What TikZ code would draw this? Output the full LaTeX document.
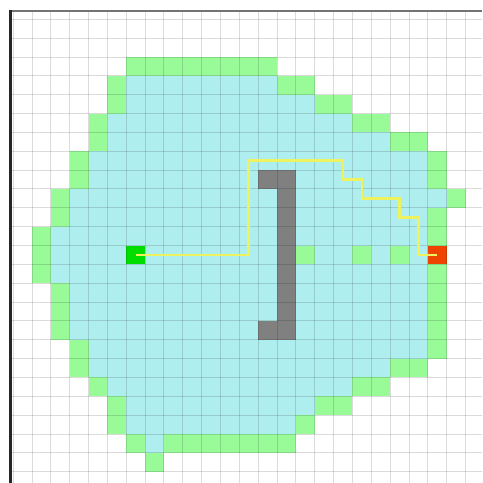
\documentclass[tikz,border=0pt]{standalone}
\definecolor{closedc}{RGB}{175,238,238}
\definecolor{openc}{RGB}{152,251,152}
\definecolor{startc}{RGB}{0,221,0}
\definecolor{endc}{RGB}{238,68,0}
\definecolor{wallc}{RGB}{128,128,128}
\definecolor{pathc}{RGB}{238,242,95}
\begin{document}
\begin{tikzpicture}[x=18.85pt,y=-18.85pt,
  gridline/.style={black,opacity=0.14,line width=1pt},
  cellnode/.style={rectangle,minimum size=18.85pt,inner sep=0pt,outer sep=0pt},
  pathline/.style={pathc,line width=2.6pt,line join=miter}]
\useasboundingbox (-0.6976,-1.0239) rectangle (24.873,24.599);
\fill[white] (-0.6976,-1.0239) rectangle (24.873,24.599);
% closed (blue) cells
\foreach \r/\a/\b in {3/6/13,4/6/15,5/5/17,6/5/19,7/4/21,8/4/21,9/3/22,10/3/21,11/2/21,12/2/21,13/2/21,14/3/21,15/3/21,16/3/21,17/4/21,18/4/19,19/5/17,20/6/15,21/6/14,22/7/7}
  \fill[closedc] (\a,\r) rectangle ({\b+1},{\r+1});
% opened (green) cells
\foreach \r/\a/\b in {2/6/13,3/5/5,3/14/15,4/5/5,4/16/17,5/4/4,5/18/19,6/4/4,6/20/21,7/3/3,7/22/22,8/3/3,8/22/22,9/2/2,9/23/23,10/2/2,10/22/22,11/1/1,11/22/22,12/1/1,12/15/15,12/18/18,12/20/20,13/1/1,13/22/22,14/2/2,14/22/22,15/2/2,15/22/22,16/2/2,16/22/22,17/3/3,17/22/22,18/3/3,18/20/21,19/4/4,19/18/19,20/5/5,20/16/17,21/5/5,21/15/15,22/6/6,22/8/14,23/7/7}
  \fill[openc] (\a,\r) rectangle ({\b+1},{\r+1});
% wall
\fill[wallc] (13,8) rectangle (15,9);
\fill[wallc] (14,8) rectangle (15,17);
\fill[wallc] (13,16) rectangle (15,17);
% start and end
\node[cellnode,fill=startc] (s) at (6.5,12.5) {};
\node[cellnode,fill=endc] (e) at (22.5,12.5) {};
% grid
\foreach \x in {0,...,24}
  \draw[gridline] (\x,-0.456) -- (\x,24.599);
\foreach \y in {0,...,24}
  \draw[gridline] (-0.13,\y) -- (24.873,\y);
% frame
\draw[black!55,line width=2pt] (-0.13,-0.456) -- (24.873,-0.456);
\draw[black!85,line width=2.5pt] (-0.13,-0.5) -- (-0.13,24.599);
% path
\draw[pathline] (s.center) -- (12.5,12.5) -- (12.5,7.5) -- (17.5,7.5) -- (17.5,8.5) -- (18.5,8.5) -- (18.5,9.5) -- (20.5,9.5) -- (20.5,10.5) -- (21.5,10.5) -- (21.5,12.5) -- (e.center);
\end{tikzpicture}
\end{document}
